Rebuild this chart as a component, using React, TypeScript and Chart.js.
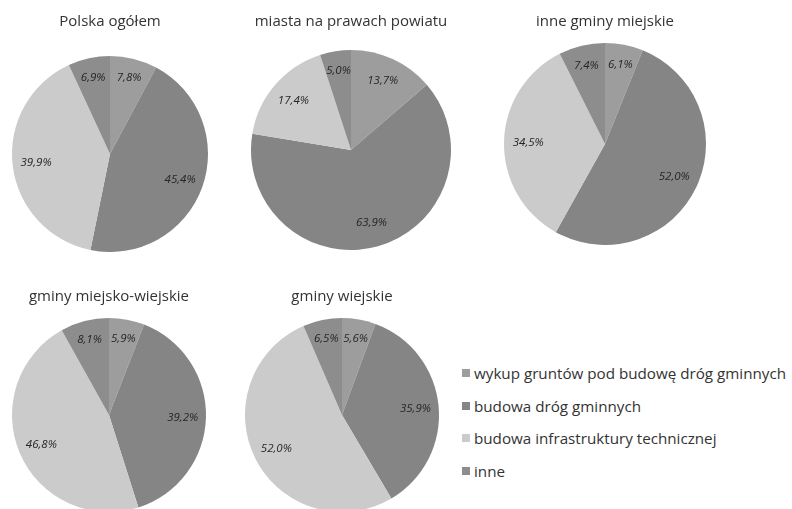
import React, { useEffect, useRef } from "react";
import { Chart, registerables } from "chart.js";

Chart.register(...registerables);

// Categories (same order in every pie, clockwise from 12 o'clock)
const categories = [
  "wykup gruntów pod budowę dróg gminnych",
  "budowa dróg gminnych",
  "budowa infrastruktury technicznej",
  "inne",
];
const sliceColors = ["#9d9d9d", "#858585", "#cbcbcb", "#8d8d8d"];

// Shares in percent, one array per group of communes
const polskaOgolem = [7.8, 45.4, 39.9, 6.9];
const miastaNaPrawachPowiatu = [13.7, 63.9, 17.4, 5.0];
const inneGminyMiejskie = [6.1, 52.0, 34.5, 7.4];
const gminyMiejskoWiejskie = [5.9, 39.2, 46.8, 8.1];
const gminyWiejskie = [5.6, 35.9, 52.0, 6.5];

const titles = [
  "Polska ogółem",
  "miasta na prawach powiatu",
  "inne gminy miejskie",
  "gminy miejsko-wiejskie",
  "gminy wiejskie",
];
const seriesList = [
  polskaOgolem,
  miastaNaPrawachPowiatu,
  inneGminyMiejskie,
  gminyMiejskoWiejskie,
  gminyWiejskie,
];

// Page layout of each pie: centre, radius, title centre line
const layout = [
  { cx: 110, cy: 154, r: 98, titleY: 22, w: 240 },
  { cx: 351, cy: 150, r: 100, titleY: 22, w: 260 },
  { cx: 605, cy: 144, r: 101, titleY: 22, w: 240 },
  { cx: 109, cy: 415, r: 97, titleY: 297, w: 240 },
  { cx: 342, cy: 415, r: 97, titleY: 297, w: 240 },
];

const TITLE_FONT = 15;
const TITLE_LINE = Math.round(TITLE_FONT * 1.2);
const TITLE_PAD_TOP = 4;

const fmt = (v: number) => v.toFixed(1).replace(".", ",") + "%";

// Writes each slice's percentage inside the slice
const sliceLabels = {
  id: "sliceLabels",
  afterDatasetsDraw(chart: any) {
    const ctx = chart.ctx;
    const meta = chart.getDatasetMeta(0);
    const data = chart.data.datasets[0].data as number[];
    ctx.save();
    ctx.font = "italic 11.5px 'Open Sans', sans-serif";
    ctx.fillStyle = "#262626";
    ctx.textAlign = "center";
    ctx.textBaseline = "middle";
    meta.data.forEach((arc: any, i: number) => {
      const p = arc.getProps(["x", "y", "startAngle", "endAngle", "outerRadius"], true);
      const mid = (p.startAngle + p.endAngle) / 2;
      const k = data[i] < 10 ? 0.8 : 0.76;
      const lx = p.x + Math.cos(mid) * p.outerRadius * k;
      const ly = p.y + Math.sin(mid) * p.outerRadius * k;
      ctx.fillText(fmt(data[i]), lx, ly);
    });
    ctx.restore();
  },
};

function PieBox({ idx }: { idx: number }) {
  const ref = useRef<HTMLCanvasElement | null>(null);
  const L = layout[idx];
  const top = L.titleY - TITLE_LINE / 2 - TITLE_PAD_TOP;
  const padBottom = L.cy - L.r - top - TITLE_LINE - TITLE_PAD_TOP;
  const height = TITLE_LINE + TITLE_PAD_TOP + padBottom + 2 * L.r;

  useEffect(() => {
    if (!ref.current) return;
    const chart = new Chart(ref.current, {
      type: "pie",
      data: {
        labels: categories,
        datasets: [
          {
            data: seriesList[idx],
            backgroundColor: sliceColors,
            borderWidth: 0,
            hoverOffset: 0,
          },
        ],
      },
      options: {
        responsive: false,
        maintainAspectRatio: false,
        animation: false,
        devicePixelRatio: 1,
        radius: L.r,
        layout: { padding: 0 },
        plugins: {
          legend: { display: false },
          tooltip: { enabled: false },
          title: {
            display: true,
            text: titles[idx],
            color: "#333333",
            font: { family: "'Open Sans', sans-serif", size: TITLE_FONT, weight: "normal", lineHeight: 1.2 },
            padding: { top: TITLE_PAD_TOP, bottom: padBottom },
          },
        },
      },
      plugins: [sliceLabels],
    });
    return () => chart.destroy();
  }, [idx]);

  return (
    <canvas
      ref={ref}
      width={L.w}
      height={height}
      style={{ position: "absolute", left: L.cx - L.w / 2, top, width: L.w, height }}
    />
  );
}

export default function App() {
  return (
    <div
      style={{
        position: "fixed",
        left: 0,
        top: 0,
        width: 792,
        height: 509,
        background: "#ffffff",
        overflow: "hidden",
      }}
    >
      {titles.map((_, i) => (
        <PieBox key={i} idx={i} />
      ))}
      <div
        style={{
          position: "absolute",
          left: 462,
          top: 357,
          fontFamily: "'Open Sans', sans-serif",
          fontSize: 15.2,
          color: "#333333",
        }}
      >
        {categories.map((c, i) => (
          <div key={c} style={{ display: "flex", alignItems: "center", height: 32.5, whiteSpace: "nowrap" }}>
            <span
              style={{
                display: "inline-block",
                width: 8,
                height: 8,
                background: sliceColors[i],
                marginRight: 4,
              }}
            />
            {c}
          </div>
        ))}
      </div>
    </div>
  );
}
